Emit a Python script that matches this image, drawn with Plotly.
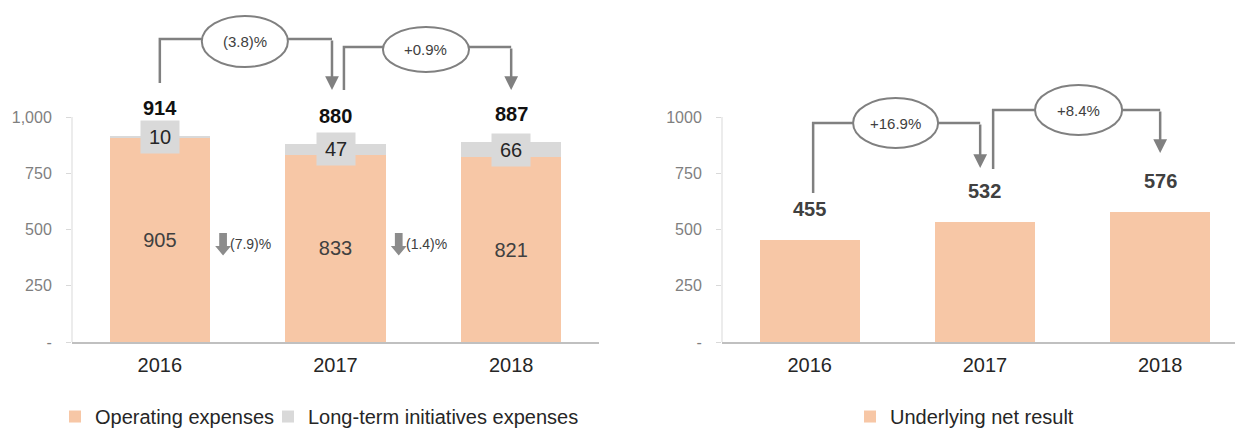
import plotly.graph_objects as go

# ---------------- data ----------------
years = ["2016", "2017", "2018"]
operating_expenses = [905, 833, 821]
longterm_expenses = [10, 47, 66]
total_expenses = [914, 880, 887]
underlying_net_result = [455, 532, 576]

total_change_labels = ["(3.8)%", "+0.9%"]
opex_change_labels = ["(7.9)%", "(1.4)%"]
net_change_labels = ["+16.9%", "+8.4%"]

y_tick_values = [0, 250, 500, 750, 1000]
y_left_tick_text = ["-", "250", "500", "750", "1,000"]
y_right_tick_text = ["-", "250", "500", "750", "1000"]

# ---------------- styles ----------------
FONT = "Liberation Sans, Arial, sans-serif"
ORANGE = "#F7C7A6"
LIGHT_GRAY = "#D9D9D9"
LINE_GRAY = "#808080"
TEXT_DARK = "#262626"
TEXT_MID = "#404040"
TICK_GRAY = "#7F7F7F"

fig = go.Figure()

fig.add_trace(go.Bar(
    x=years, y=operating_expenses, name="Operating expenses",
    marker=dict(color=ORANGE, line=dict(width=0)),
    text=[str(v) for v in operating_expenses], textposition="inside",
    insidetextanchor="middle", textangle=0, constraintext="none",
    textfont=dict(family=FONT, size=20, color=TEXT_MID),
    xaxis="x", yaxis="y", legend="legend",
))
fig.add_trace(go.Bar(
    x=years, y=longterm_expenses, name="Long-term initiatives expenses",
    marker=dict(color=LIGHT_GRAY, line=dict(width=0)),
    xaxis="x", yaxis="y", legend="legend2",
))
fig.add_trace(go.Bar(
    x=years, y=underlying_net_result, name="Underlying net result",
    marker=dict(color=ORANGE, line=dict(width=0)),
    xaxis="x2", yaxis="y2", legend="legend3",
))

annotations = []
shapes = []

# labels on the grey segments and totals (left)
for i, (op, lt, tot) in enumerate(zip(operating_expenses, longterm_expenses, total_expenses)):
    annotations.append(dict(
        x=i, y=op + lt / 2, xref="x", yref="y", text=str(lt), showarrow=False,
        bgcolor=LIGHT_GRAY, width=36, height=30,
        font=dict(family=FONT, size=20, color=TEXT_DARK)))
    annotations.append(dict(
        x=i, y=op + lt, xref="x", yref="y", text=f"<b>{tot}</b>", showarrow=False,
        yanchor="middle", yshift=28,
        font=dict(family=FONT, size=20, color="#111111")))

# labels above the bars (right)
for i, v in enumerate(underlying_net_result):
    annotations.append(dict(
        x=i, y=v, xref="x2", yref="y2", text=f"<b>{v}</b>", showarrow=False,
        yanchor="middle", yshift=31,
        font=dict(family=FONT, size=20, color=TEXT_MID)))


def bracket(xr, yr, x0, y0, ytop, x1, ytip, ex0, ex1, ey0, ey1, label):
    shapes.append(dict(
        type="path", xref=xr, yref=yr, layer="above",
        path=f"M{x0},{y0} L{x0},{ytop} L{x1},{ytop}",
        line=dict(color=LINE_GRAY, width=2.5)))
    shapes.append(dict(
        type="circle", xref=xr, yref=yr, layer="above",
        x0=ex0, x1=ex1, y0=ey0, y1=ey1, fillcolor="white",
        line=dict(color=LINE_GRAY, width=2)))
    annotations.append(dict(
        x=x1, y=ytip, ax=x1, ay=ytop, xref=xr, yref=yr, axref=xr, ayref=yr,
        text="", showarrow=True, arrowhead=2, arrowsize=1.1, arrowwidth=2.5,
        arrowcolor=LINE_GRAY, standoff=0, startstandoff=0))
    annotations.append(dict(
        x=(ex0 + ex1) / 2, y=(ey0 + ey1) / 2, xref=xr, yref=yr, text=label,
        showarrow=False, font=dict(family=FONT, size=15, color=TEXT_MID)))


bracket("x", "y", 0.0, 1151, 1347, 0.98, 1120, 0.239, 0.729, 1222, 1449, total_change_labels[0])
bracket("x", "y", 1.048, 1120, 1311, 2.0, 1120, 1.27, 1.76, 1200, 1400, total_change_labels[1])
bracket("x2", "y2", 0.02, 662, 973, 0.973, 773, 0.248, 0.733, 862, 1084, net_change_labels[0])
bracket("x2", "y2", 1.047, 769, 1031, 2.0, 840, 1.286, 1.783, 920, 1142, net_change_labels[1])


def block_arrow(xc, ytop, yneck, ytip, hs, hh):
    return (f"M{xc - hs},{ytop} L{xc + hs},{ytop} L{xc + hs},{yneck} L{xc + hh},{yneck} "
            f"L{xc},{ytip} L{xc - hh},{yneck} L{xc - hs},{yneck} Z")


for k, lab in enumerate(opex_change_labels):
    xc = k + 0.36
    shapes.append(dict(type="path", xref="x", yref="y", layer="above",
                       path=block_arrow(xc, 484, 427, 385, 0.022, 0.045),
                       fillcolor="#8C8C8C", line=dict(width=0)))
    annotations.append(dict(x=xc + 0.03, y=437, xref="x", yref="y", text=lab,
                            xanchor="left", showarrow=False,
                            font=dict(family=FONT, size=14, color=TEXT_MID)))

# y-axis lines only up to 1000
for xr, yr in (("x domain", "y"), ("x2 domain", "y2")):
    shapes.append(dict(type="line", xref=xr, yref=yr, x0=0, x1=0, y0=0, y1=1000,
                       line=dict(color=LIGHT_GRAY, width=1), layer="below"))

Y_DOMAIN = [88 / 430, 1.0]
Y_RANGE = [0, 1520]

xaxis_common = dict(
    type="category", showline=True, linecolor="#C0C0C0", linewidth=2,
    ticks="", showgrid=False, zeroline=False, fixedrange=True,
    tickfont=dict(family=FONT, size=20, color=TEXT_DARK), ticklabelstandoff=4,
)
yaxis_common = dict(
    range=Y_RANGE, domain=Y_DOMAIN, showline=False, showgrid=False, zeroline=False,
    ticks="outside", ticklen=5, tickcolor=LIGHT_GRAY, tickwidth=1,
    tickvals=y_tick_values, tickfont=dict(family=FONT, size=16, color=TICK_GRAY),
    ticklabelstandoff=11, fixedrange=True,
)

legend_common = dict(orientation="h", yanchor="bottom", y=-0.014, xanchor="left",
                     bgcolor="rgba(0,0,0,0)", borderwidth=0,
                     font=dict(family=FONT, size=20, color=TEXT_DARK))

fig.update_layout(
    width=1235, height=430, autosize=False,
    margin=dict(l=0, r=0, t=0, b=0, autoexpand=False),
    paper_bgcolor="white", plot_bgcolor="white",
    barmode="stack", bargap=0.43,
    font=dict(family=FONT, color=TEXT_DARK),
    xaxis=dict(domain=[72 / 1235, 599 / 1235], range=[-0.5, 2.5], anchor="y", **xaxis_common),
    yaxis=dict(anchor="x", ticktext=y_left_tick_text, **yaxis_common),
    xaxis2=dict(domain=[722 / 1235, 1.0], range=[-0.5, 2.427], anchor="y2", **xaxis_common),
    yaxis2=dict(anchor="x2", ticktext=y_right_tick_text, **yaxis_common),
    legend=dict(x=55 / 1235, **legend_common),
    legend2=dict(x=268 / 1235, **legend_common),
    legend3=dict(x=850 / 1235, **legend_common),
    showlegend=True,
    annotations=annotations,
    shapes=shapes,
)

fig.write_html("out.html")
